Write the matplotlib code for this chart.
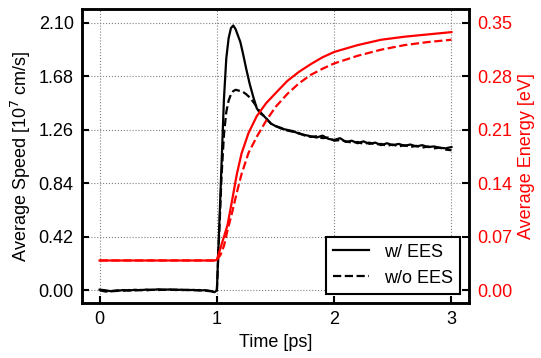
import numpy as np
import matplotlib
matplotlib.use("Agg")
import matplotlib.pyplot as plt

plt.rcParams['font.family'] = ['Liberation Sans', 'DejaVu Sans']
plt.rcParams['font.size'] = 13

# %% DATA
# time axis for the speed curves [ps]
t_spd = [0.00, 0.05, 0.10, 0.15, 0.20, 0.25, 0.30, 0.35, 0.40, 0.45,
         0.50, 0.55, 0.60, 0.65, 0.70, 0.75, 0.80, 0.85, 0.90, 0.95,
         0.98, 1.00, 1.02, 1.04, 1.06, 1.08, 1.10, 1.12, 1.14, 1.16,
         1.18, 1.20, 1.22, 1.25, 1.28, 1.31, 1.34, 1.37, 1.40, 1.43,
         1.46, 1.50, 1.55, 1.60, 1.65, 1.70, 1.75, 1.80, 1.85, 1.90,
         1.95, 2.00, 2.05, 2.10, 2.15, 2.20, 2.25, 2.30, 2.35, 2.40,
         2.45, 2.50, 2.55, 2.60, 2.65, 2.70, 2.75, 2.80, 2.85, 2.90,
         2.95, 3.00]

# average speed [1e7 cm/s], with EES
spd_ees = [0.005, 0.000, -0.008, -0.005, 0.002, -0.003, 0.004, 0.000, 0.006, 0.003,
           0.008, 0.004, 0.007, 0.002, 0.005, 0.001, 0.003, -0.002, 0.001, -0.006,
           -0.015, 0.00, 0.50, 1.00, 1.50, 1.82, 1.98, 2.06, 2.08, 2.05,
           2.00, 1.95, 1.87, 1.74, 1.62, 1.52, 1.43, 1.39, 1.37, 1.34,
           1.31, 1.29, 1.27, 1.26, 1.25, 1.23, 1.22, 1.21, 1.20, 1.215,
           1.19, 1.18, 1.195, 1.165, 1.175, 1.155, 1.17, 1.15, 1.16, 1.14,
           1.155, 1.14, 1.15, 1.135, 1.145, 1.13, 1.14, 1.125, 1.13, 1.12,
           1.115, 1.125]

# average speed [1e7 cm/s], without EES
spd_noees = [0.000, -0.010, -0.006, 0.000, -0.004, 0.002, -0.002, 0.003, 0.000, 0.004,
             0.002, 0.005, 0.003, 0.006, 0.001, 0.004, 0.000, 0.002, -0.003, -0.008,
             -0.012, 0.00, 0.45, 0.90, 1.22, 1.40, 1.49, 1.54, 1.565, 1.575,
             1.57, 1.565, 1.56, 1.54, 1.515, 1.48, 1.44, 1.40, 1.37, 1.34,
             1.31, 1.29, 1.275, 1.255, 1.245, 1.235, 1.215, 1.205, 1.21, 1.195,
             1.20, 1.175, 1.18, 1.17, 1.16, 1.165, 1.15, 1.16, 1.145, 1.15,
             1.135, 1.145, 1.13, 1.14, 1.125, 1.135, 1.12, 1.13, 1.115, 1.12,
             1.105, 1.10]

# time axis for the energy curves [ps]
t_en = [0.0, 0.5, 0.98, 1.00, 1.03, 1.06, 1.09, 1.13, 1.17, 1.21, 1.27, 1.34,
        1.42, 1.50, 1.60, 1.70, 1.80, 1.90, 2.00, 2.20, 2.40, 2.60, 2.80, 3.00]

# average energy [eV]
en_ees = [0.039, 0.039, 0.039, 0.040, 0.055, 0.070, 0.085, 0.118, 0.152, 0.179, 0.206, 0.228,
          0.245, 0.258, 0.274, 0.286, 0.296, 0.305, 0.312, 0.321, 0.328, 0.332, 0.335, 0.338]
en_noees = [0.039, 0.039, 0.039, 0.040, 0.046, 0.058, 0.078, 0.102, 0.128, 0.152, 0.180, 0.201,
            0.222, 0.240, 0.257, 0.271, 0.282, 0.290, 0.297, 0.307, 0.315, 0.321, 0.325, 0.328]

x_ticks = [0, 1, 2, 3]
spd_ticks = [0.00, 0.42, 0.84, 1.26, 1.68, 2.10]
en_ticks = [0.00, 0.07, 0.14, 0.21, 0.28, 0.35]

# %% PLOT
fig = plt.figure(figsize=(5.41, 3.58), dpi=100)
ax = fig.add_axes([0.1516, 0.1536, 0.8654 - 0.1516 + 0.0016, 0.975 - 0.1536])
ax2 = ax.twinx()

l1, = ax.plot(t_spd, spd_ees, color='black', lw=1.6, label='w/ EES')
l2, = ax.plot(t_spd, spd_noees, color='black', lw=1.6, ls='--', label='w/o EES')
ax2.plot(t_en, en_ees, color='red', lw=1.6)
ax2.plot(t_en, en_noees, color='red', lw=1.6, ls='--')

ax.set_xlim(-0.15, 3.15)
ax.set_ylim(-0.10, 2.21)
ax2.set_ylim(-0.10 / 6, 2.21 / 6)

ax.set_xticks(x_ticks)
ax.set_yticks(spd_ticks)
ax.set_yticklabels(['%.2f' % v for v in spd_ticks])
ax2.set_yticks(en_ticks)
ax2.set_yticklabels(['%.2f' % v for v in en_ticks])

ax.grid(True, color='gray', ls=':', lw=0.8)

for a in (ax, ax2):
    for s in a.spines.values():
        s.set_linewidth(1.8)
ax.tick_params(direction='in', length=5, width=1.5, pad=6)
ax.tick_params(axis='y', right=False)
ax2.tick_params(direction='in', length=5, width=1.5, pad=6, labelcolor='red')

ax.set_xlabel('Time [ps]')
ax.set_ylabel('Average Speed [10$^7$ cm/s]')
ax2.set_ylabel('Average Energy [eV]', color='red')

leg = ax2.legend([l1, l2], ['w/ EES', 'w/o EES'], loc='lower right',
                 fancybox=False, framealpha=1, edgecolor='black')
leg.get_frame().set_linewidth(1.5)

fig.savefig('out.png', dpi=100)
